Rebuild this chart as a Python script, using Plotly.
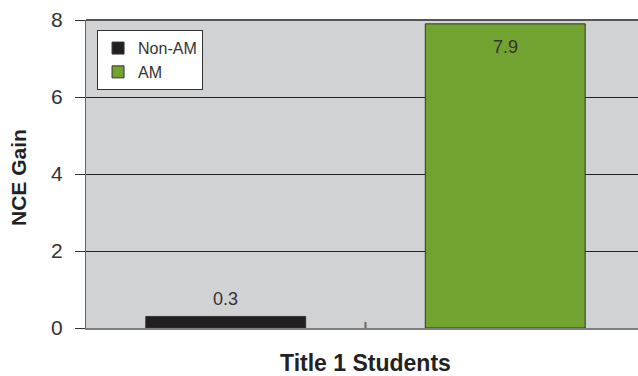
import plotly.graph_objects as go

series = ["Non-AM", "AM"]
values = [0.3, 7.9]
positions = [0.5, 1.5]
colors = ["#231f20", "#72a22f"]
y_ticks = [0, 2, 4, 6, 8]
x_title = "Title 1 Students"
y_title = "NCE Gain"

FONT = "Liberation Sans, Arial, sans-serif"
fig = go.Figure()
for name, v, p, c in zip(series, values, positions, colors):
    fig.add_trace(go.Bar(
        x=[p], y=[v], name=name, width=0.572,
        marker=dict(color=c, line=dict(color="#333333", width=1)),
    ))

label_annotations = []
for v, p in zip(values, positions):
    outside = v < 1
    label_annotations.append(dict(
        text=f"{v:.1f}", xref="x", yref="y", x=p, y=v,
        xanchor="center", yanchor="bottom" if outside else "top",
        yshift=5 if outside else -11, showarrow=False,
        font=dict(family=FONT, size=18, color="#333333"),
    ))

fig.update_layout(
    width=638, height=376,
    margin=dict(l=86, r=0, t=20, b=48),
    paper_bgcolor="white",
    plot_bgcolor="#d1d2d4",
    barmode="overlay",
    showlegend=True,
    legend=dict(
        x=0.02, y=0.967, xanchor="left", yanchor="top",
        bgcolor="white", bordercolor="#333333", borderwidth=1,
        font=dict(family=FONT, size=16, color="#333333"),
        itemwidth=30, tracegroupgap=0,
        entrywidth=84,
    ),
    font=dict(family=FONT, color="#333333"),
    xaxis=dict(
        range=[0, 552 / 279.5], showgrid=False, zeroline=False,
        showticklabels=False, ticks="",
        showline=True, linecolor="#7f7f7f", linewidth=2,
        fixedrange=True,
    ),
    yaxis=dict(
        range=[0, 8], tickvals=y_ticks, ticks="outside", ticklen=10,
        tickcolor="#333333", tickwidth=1,
        showgrid=True, gridcolor="#222222", gridwidth=1,
        zeroline=False,
        showline=True, linecolor="#666666", linewidth=1,
        tickfont=dict(family=FONT, size=21, color="#333333"),
        ticklabelstandoff=8,
    ),
    annotations=label_annotations + [
        dict(text=f"<b>{x_title}</b>", xref="paper", yref="paper",
             x=(365 - 86) / 552, y=-35 / 308, xanchor="center", yanchor="middle",
             showarrow=False, font=dict(family=FONT, size=23, color="#222222")),
        dict(text=f"<b>{y_title}</b>", xref="paper", yref="paper",
             x=(18 - 86) / 552, y=(328 - 178) / 308, xanchor="center", yanchor="middle",
             textangle=-90, showarrow=False,
             font=dict(family=FONT, size=21, color="#222222")),
    ],
    shapes=[
        dict(type="line", xref="paper", yref="paper", x0=0, x1=1, y0=1, y1=1,
             line=dict(color="#555555", width=2)),
        dict(type="line", xref="x", yref="y", ysizemode="pixel", yanchor=0,
             x0=1, x1=1, y0=-5, y1=6, line=dict(color="#666666", width=2)),
    ],
)

fig.write_html("out.html")
